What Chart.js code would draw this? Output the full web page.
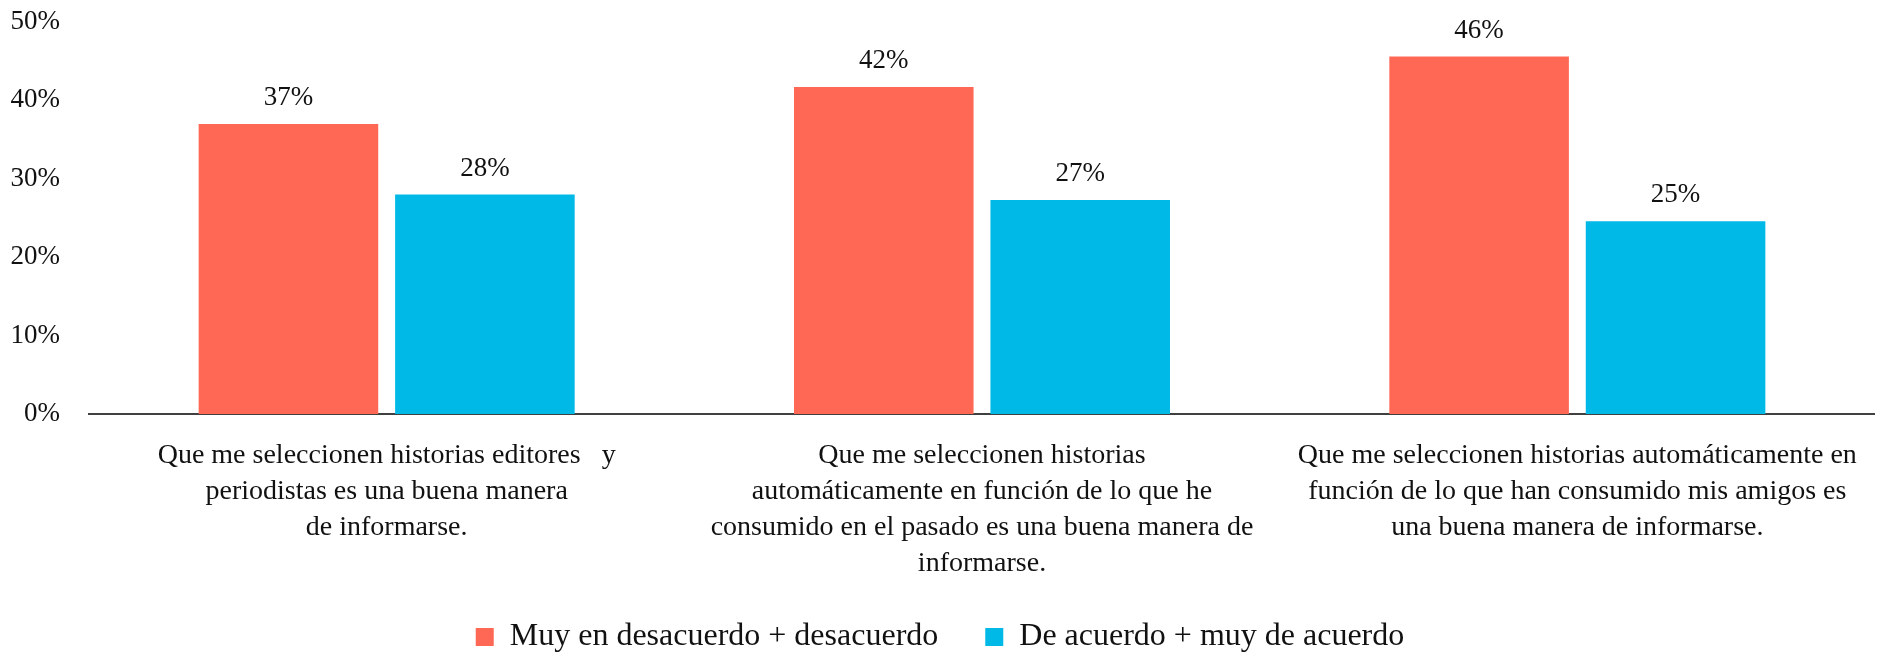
<!DOCTYPE html>
<html>
<head>
<meta charset="utf-8">
<script src="https://cdn.jsdelivr.net/npm/chart.js@4"></script>
<style>
  html, body { margin: 0; padding: 0; background: #fff; }
  #wrap { width: 1881px; height: 654px; position: relative; }
</style>
</head>
<body>
<div id="wrap"><canvas id="encuesta"></canvas></div>
<script>
var categorias = [
  ["Que me seleccionen historias editores   y", "periodistas es una buena manera", "de informarse."],
  ["Que me seleccionen historias", "automáticamente en función de lo que he", "consumido en el pasado es una buena manera de", "informarse."],
  ["Que me seleccionen historias automáticamente en", "función de lo que han consumido mis amigos es", "una buena manera de informarse."]
];
var desacuerdo = [37.0, 41.7, 45.6];
var deAcuerdo = [28.0, 27.3, 24.6];
var ticksY = [0, 10, 20, 30, 40, 50];

var serif = "'Liberation Serif', 'DejaVu Serif', serif";

// etiquetas encima de cada barra
var etiquetas = {
  id: 'etiquetas',
  afterDatasetsDraw: function (chart) {
    var ctx = chart.ctx;
    ctx.save();
    ctx.font = "27px " + serif;
    ctx.fillStyle = '#111';
    ctx.textAlign = 'center';
    ctx.textBaseline = 'middle';
    chart.data.datasets.forEach(function (ds, i) {
      chart.getDatasetMeta(i).data.forEach(function (bar, j) {
        ctx.fillText(Math.round(ds.data[j]) + '%', bar.x, bar.y - 26);
      });
    });
    ctx.restore();
  }
};

var config = {
  type: 'bar',
  data: {
    labels: categorias,
    datasets: [{
      label: 'Muy en desacuerdo + desacuerdo',
      data: desacuerdo,
      backgroundColor: '#FF6854'
    }, {
      label: 'De acuerdo + muy de acuerdo',
      data: deAcuerdo,
      backgroundColor: '#00B9E7'
    }]
  },
  options: {
    responsive: true,
    maintainAspectRatio: false,
    animation: false,
    categoryPercentage: 0.66,
    barPercentage: 0.914,
    layout: { padding: { top: 22, right: 1, bottom: -9, left: 0 } },
    plugins: {
      legend: {
        position: 'bottom',
        labels: {
          font: { family: serif, size: 32 },
          color: '#111',
          boxWidth: 18,
          boxHeight: 18,
          padding: 47
        }
      },
      tooltip: { enabled: false }
    },
    scales: {
      x: {
        afterFit: function (scale) { scale.height = 160; },
        grid: { display: false, drawTicks: false },
        border: { display: true, color: '#404040', width: 2 },
        ticks: {
          autoSkip: false,
          maxRotation: 0,
          padding: 24,
          color: '#111',
          font: { family: serif, size: 28, lineHeight: 1.286 }
        }
      },
      y: {
        min: 0,
        max: 50,
        afterBuildTicks: function (scale) {
          scale.ticks = ticksY.map(function (v) { return { value: v }; });
        },
        afterFit: function (scale) {
          scale.width = 89;
          scale.paddingTop = 0;
          scale.paddingBottom = 0;
        },
        grid: { display: false, drawTicks: false },
        border: { display: false },
        ticks: {
          padding: 29,
          color: '#111',
          font: { family: serif, size: 27, lineHeight: 1.2 },
          callback: function (v) { return v + '%'; }
        }
      }
    }
  },
  plugins: [etiquetas]
};

var chart = new Chart(document.getElementById('encuesta'), config);
</script>
</body>
</html>
